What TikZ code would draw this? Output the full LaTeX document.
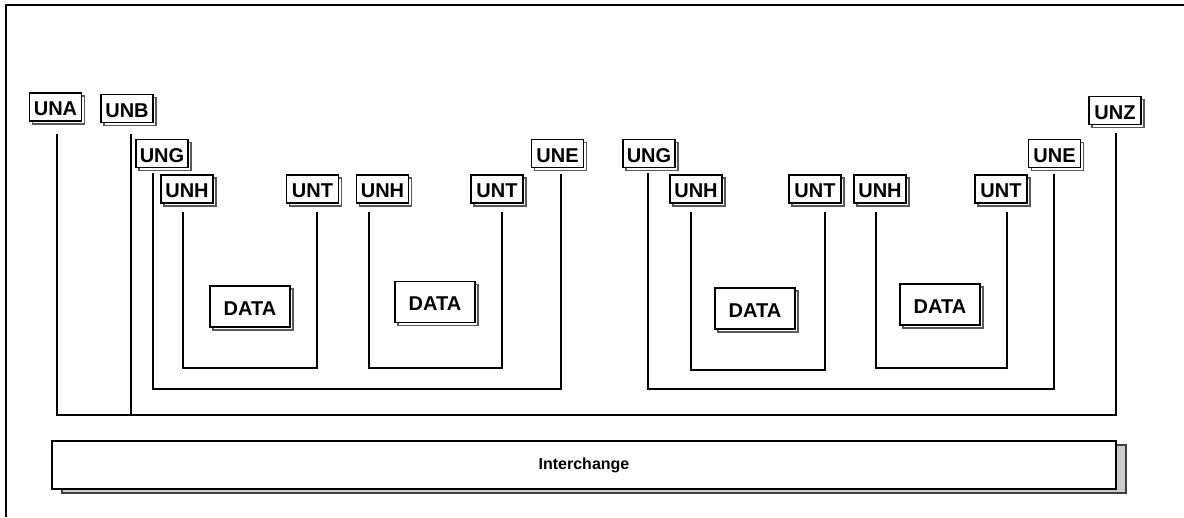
\documentclass[tikz,border=0pt]{standalone}
\usepackage{fontspec}
\setmainfont{Liberation Sans}
\usetikzlibrary{shadows}
\begin{document}
\begin{tikzpicture}[x=1pt,y=-1pt,
  seg/.style={draw=black, line width=1.4pt, fill=white,
    font=\fontsize{20}{22}\selectfont\bfseries,
    text height=17pt, text depth=0pt,
    minimum width=52pt, minimum height=28pt, inner sep=0pt,
    copy shadow={shadow xshift=3pt, shadow yshift=-3pt, draw=black!65, fill=white, line width=1.2pt}},
  databox/.style={seg, minimum width=80pt, minimum height=41pt},
  interbox/.style={draw=black, line width=1.4pt, fill=white,
    font=\fontsize{16}{18}\selectfont\bfseries,
    minimum width=1064pt, minimum height=48pt, inner sep=0pt,
    copy shadow={shadow xshift=10pt, shadow yshift=-4pt, draw=black!75, fill=black!20, line width=1.2pt}},
  conn/.style={draw=black, line width=1.8pt}]
\useasboundingbox (0,0) rectangle (1184,517);
\draw[line width=1.5pt] (6,517) -- (6,5) -- (1184,5);

\node[seg] (una) at (55.5,107) {UNA};
\node[seg] (unb) at (127,108.5) {UNB};
\node[seg] (ung1) at (162,153.5) {UNG};
\node[seg] (unh1) at (187,189) {UNH};
\node[seg] (unt1) at (312.5,189) {UNT};
\node[seg] (unh2) at (382.5,189) {UNH};
\node[seg] (unt2) at (497,189) {UNT};
\node[seg] (une1) at (557.5,153.5) {UNE};
\node[seg] (ung2) at (649,153.5) {UNG};
\node[seg] (unh3) at (696,189) {UNH};
\node[seg] (unt3) at (815,189) {UNT};
\node[seg] (unh4) at (880,189) {UNH};
\node[seg] (unt4) at (1001,189) {UNT};
\node[seg] (une2) at (1054.5,153.5) {UNE};
\node[seg] (unz) at (1115,110.5) {UNZ};

\node[databox] (data1) at (250,306.5) {DATA};
\node[databox] (data2) at (435,302) {DATA};
\node[databox] (data3) at (755,308.5) {DATA};
\node[databox] (data4) at (940,304.5) {DATA};

\node[interbox] (inter) at (584,465) {Interchange};

\draw[conn] ([xshift=1.5pt,yshift=-12pt]una.south) -- ++(0,281) -| ([xshift=1pt,yshift=-8pt]unz.south);
\draw[conn] ([xshift=4pt,yshift=-11pt]unb.south) -- ++(0,281);
\draw[conn] ([xshift=-9pt,yshift=-5pt]ung1.south) -- ++(0,216) -| ([xshift=3.5pt,yshift=-6pt]une1.south);
\draw[conn] ([xshift=-4pt,yshift=-8.5pt]unh1.south) -- ++(0,156) -| ([xshift=4.5pt,yshift=-8.5pt]unt1.south);
\draw[conn] ([xshift=-13.5pt,yshift=-8.5pt]unh2.south) -- ++(0,156) -| ([xshift=5pt,yshift=-8.5pt]unt2.south);
\draw[conn] ([xshift=-1pt,yshift=-5pt]ung2.south) -- ++(0,216) -| ([xshift=-0.5pt,yshift=-6pt]une2.south);
\draw[conn] ([xshift=-5pt,yshift=-8.5pt]unh3.south) -- ++(0,158) -| ([xshift=10pt,yshift=-8.5pt]unt3.south);
\draw[conn] ([xshift=-4pt,yshift=-8.5pt]unh4.south) -- ++(0,156) -| ([xshift=6pt,yshift=-8.5pt]unt4.south);
\end{tikzpicture}
\end{document}
